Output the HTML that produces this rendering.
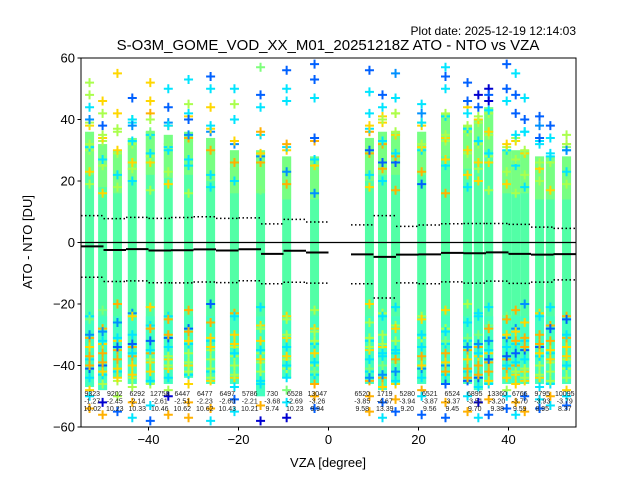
<!DOCTYPE html>
<html><head><meta charset="utf-8"><style>
html,body{margin:0;padding:0;background:#fff;}
svg{display:block;font-family:"Liberation Sans","DejaVu Sans",sans-serif;}
</style></head><body>
<svg id="chart" width="640" height="480" xmlns="http://www.w3.org/2000/svg">
<rect x="0" y="0" width="640" height="480" fill="#fff"/>
<text x="576" y="35" font-size="12" text-anchor="end" fill="#000">Plot date: 2025-12-19 12:14:03</text>
<text x="328" y="50" font-size="15" text-anchor="middle" fill="#000">S-O3M_GOME_VOD_XX_M01_20251218Z ATO - NTO vs VZA</text>
<g id="plot"></g>
<text x="328" y="467" font-size="13" text-anchor="middle" fill="#000">VZA [degree]</text>
<text x="32" y="242" font-size="13" text-anchor="middle" fill="#000" transform="rotate(-90 32 242)">ATO - NTO [DU]</text>
</svg>
<script>
const xTicks=[-40,-20,0,20,40];
const yTicks=[60,40,20,0,-20,-40,-60];
const binStart=[-55,-50,-45,-40,-35,-30,-25,-20,-15,-10,-5,5,10,15,20,25,30,35,40,45,50];
const binCount=[9323,9202,6292,12758,6447,6477,6497,5786,730,6528,13047,6520,1719,5280,6521,6524,6895,13360,6766,9795,10095];
const binMean=[-1.27,-2.45,-2.14,-2.61,-2.51,-2.23,-2.60,-2.21,-3.68,-2.69,-3.26,-3.85,-4.67,-3.94,-3.87,-3.37,-3.51,-3.20,-3.70,-3.93,-3.79];
const binStd=[10.02,10.23,10.33,10.46,10.62,10.62,10.43,10.21,9.74,10.23,9.94,9.58,13.39,9.20,9.56,9.45,9.70,9.38,9.59,8.95,8.37];
const stripeVza=[-53.1,-50.2,-46.9,-43.6,-39.6,-35.6,-31.1,-26.2,-20.9,-15.1,-9.3,-3.1,9.1,12.0,14.9,20.7,26.0,30.9,33.3,35.6,39.6,41.6,43.6,46.9,49.3,52.9];
const stripeTop=[36,32,30,34,36,35,36,34,30,30,28,28,34,36,36,36,42,38,40,44,30,30,30,28,28,28];
const stripeBottom=[-47,-48,-44,-46,-46,-46,-44,-46,-46,-50,-44,-46,-46,-48,-46,-46,-46,-46,-48,-46,-46,-46,-46,-46,-46,-46];
const outTop=[[52,48,44,40],[46,42,38],[55,42,37],[47,40,38],[52,46,40],[50,44,38],[53,45,40],[54,50,44],[50,45,40],[57,48,44],[56,50,46],[58,53,47],[56,49,42],[48,44,40],[55,47,42],[45,42,39],[57,54,50],[52,46,42],[48,44],[50,48,46],[58,50,46],[55,48,42],[47,40,36],[41,38,34],[38,34],[35,32,30]];
const outTopCol=[["#aaff4d","#aaff4d","#00e5ff","#0090ff"],["#ffd700","#aaff4d","#0060ff"],["#ffd700","#ffd700","#aaff4d"],["#0060ff","#00e5ff","#0090ff"],["#ffd700","#ffd700","#aaff4d"],["#00e5ff","#0060ff","#00e5ff"],["#00e5ff","#aaff4d","#0060ff"],["#0060ff","#00e5ff","#ffd700"],["#00e5ff","#aaff4d","#00e5ff"],["#7dff7a","#0060ff","#00e5ff"],["#0060ff","#00e5ff","#00e5ff"],["#0060ff","#0060ff","#00e5ff"],["#0060ff","#00e5ff","#00e5ff"],["#0060ff","#00e5ff","#aaff4d"],["#0090ff","#00e5ff","#aaff4d"],["#00e5ff","#0090ff","#00e5ff"],["#00e5ff","#0060ff","#00e5ff"],["#0060ff","#0060ff","#00e5ff"],["#0000d0","#0060ff"],["#0000d0","#0060ff","#0000d0"],["#0060ff","#0060ff","#00e5ff"],["#00e5ff","#0060ff","#0060ff"],["#00e5ff","#0060ff","#00e5ff"],["#0060ff","#0090ff","#0060ff"],["#0060ff","#00e5ff"],["#aaff4d","#aaff4d","#0090ff"]];
const outBot=[[-50,-54],[-52,-56],[-50,-55],[-52,-57],[-53,-58],[-50,-56],[-52,-57],[-54,-58],[-51,-55],[-53,-58],[-52,-57],[-50,-54],[-50,-55],[-52,-57],[-51,-55],[-50,-56],[-52,-57],[-50,-55],[-52,-57],[-51,-56],[-50,-54],[-52,-56],[-50,-55],[-51,-54],[-50,-53],[-50,-53]];
const outBotCol=[["#00e5ff","#ffb000"],["#0000d0","#ffb000"],["#aaff4d","#0060ff"],["#ffb000","#00e5ff"],["#00e5ff","#0060ff"],["#0000d0","#ffb000"],["#ffb000","#ffb000"],["#ffb000","#00e5ff"],["#0060ff","#00e5ff"],["#ffb000","#0000d0"],["#00e5ff","#0000d0"],["#ffb000","#0060ff"],["#ffb000","#ffb000"],["#0060ff","#00e5ff"],["#ffb000","#0060ff"],["#00e5ff","#0060ff"],["#ffb000","#0060ff"],["#00e5ff","#ffb000"],["#0000d0","#00e5ff"],["#ffb000","#0060ff"],["#00e5ff","#0060ff"],["#ffb000","#00e5ff"],["#0060ff","#ffb000"],["#00e5ff","#0060ff"],["#ffb000","#00e5ff"],["#00e5ff","#0060ff"]];
const mixVals=[-22,-26,-30,-32,-34,-36,-38,-40,-42,-44,-46,18,24,28,31,34,37,40,43];
const mixCols=["#00e5ff","#7dff7a","#ffb000","#0090ff","#ffd700","#00e5ff","#ffb000","#0060ff","#ffb000","#00e5ff","#ffd700","#aaff4d","#ffd700","#aaff4d","#00e5ff","#aaff4d","#ffd700","#aaff4d","#00e5ff"];

const NS="http://www.w3.org/2000/svg";
const L=81,R=576,T=58,B=427;
function sx(v){return L+(v+55)/110*(R-L);}
function sy(v){return T+(60-v)/120*(B-T);}
const plot=document.getElementById('plot');
function mk(tag,attrs,parent){const e=document.createElementNS(NS,tag);for(const k in attrs)e.setAttribute(k,attrs[k]);(parent||plot).appendChild(e);return e;}
function cross(x,y,c,g){
  const p=mk('path',{d:`M${x-4.5},${y}H${x+4.5}M${x},${y-4.5}V${y+4.5}`,stroke:c,'stroke-width':2,fill:'none'},g);
  
  
}
const clip=mk('clipPath',{id:'pc'});mk('rect',{x:L,y:T,width:R-L,height:B-T},clip);
const g=mk('g',{'clip-path':'url(#pc)'});


stripeVza.forEach((v,i)=>{
  const x=sx(v);
  const r=mk('rect',{x:x-4.5,y:sy(stripeTop[i]),width:9,height:sy(stripeBottom[i])-sy(stripeTop[i]),fill:'#52ffa6'},g);
  
  
  mk('rect',{x:x-4.5,y:sy(stripeTop[i]),width:9,height:sy(stripeTop[i]-14)-sy(stripeTop[i]),fill:'#9cff5e',opacity:0.5},g);
  mk('rect',{x:x-4.5,y:sy(-24),width:9,height:sy(stripeBottom[i])-sy(-24),fill:'#3affd0',opacity:0.6},g);
  mixVals.forEach((m,j)=>{
    const val=m+((i*7+j*3)%5)-2;
    if(m>0&&val>stripeTop[i]+6)return;
    cross(x,sy(val),mixCols[(j+i)%mixCols.length],g);
  });
  outTop[i].forEach((o,j)=>cross(x,sy(o),outTopCol[i][j],g));
  outBot[i].forEach((o,j)=>cross(x,sy(o),outBotCol[i][j],g));
});
// zero line
const z=mk('line',{x1:L,x2:R,y1:sy(0),y2:sy(0),stroke:'#000','stroke-width':1.2});


binStart.forEach((b,i)=>{
  const x1=sx(b),x2=sx(b+5);
  const m=mk('line',{x1,x2,y1:sy(binMean[i]),y2:sy(binMean[i]),stroke:'#000','stroke-width':2});
  
  
  [binMean[i]+binStd[i],binMean[i]-binStd[i]].forEach(v=>{
    const d=mk('line',{x1,x2,y1:sy(v),y2:sy(v),stroke:'#000','stroke-width':1.5,'stroke-dasharray':'1.5,2.5'});
    
    
  });
  const cx=sx(b+2.5);
  const lines=[String(binCount[i]),binMean[i].toFixed(2),binStd[i].toFixed(2)];
  lines.forEach((s,k)=>{
    const t=mk('text',{x:cx,y:396+k*7.5,'font-size':7,'text-anchor':'middle',fill:'#222'});
    t.textContent=s;
    
    
  });
});
const fr=mk('rect',{x:L,y:T,width:R-L,height:B-T,fill:'none',stroke:'#000','stroke-width':1});


xTicks.forEach(v=>{
  const x=sx(v);
  const tk=mk('line',{x1:x,x2:x,y1:B,y2:B+3.5,stroke:'#000'});
  
  
  const t=mk('text',{x:x,y:B+17,'font-size':13,'text-anchor':'middle',fill:'#000'});
  t.textContent=v<0?'\u2212'+(-v):String(v);
  
  
});
yTicks.forEach(v=>{
  const y=sy(v);
  const tk=mk('line',{x1:L-3.5,x2:L,y1:y,y2:y,stroke:'#000'});
  
  
  const t=mk('text',{x:L-6,y:y+4.5,'font-size':13,'text-anchor':'end',fill:'#000'});
  t.textContent=v<0?'\u2212'+(-v):String(v);
  
  
});
</script>
</body></html>
